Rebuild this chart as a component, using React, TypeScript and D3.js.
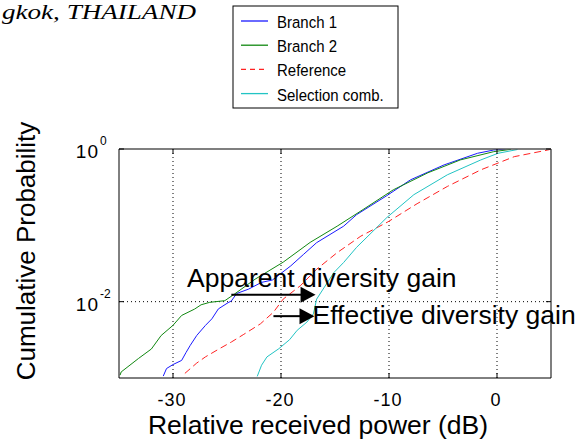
import React from 'react';
import * as d3 from 'd3';

// relative received power (dB), cumulative probability
const branch1: [number, number][] = [
  [-30.9, 0.00106], [-30.6, 0.00133], [-30.0, 0.0015], [-29.2, 0.0017], [-28.8, 0.00215],
  [-28.4, 0.00268], [-27.8, 0.00361], [-27.0, 0.00488], [-26.4, 0.00596], [-25.8, 0.00804],
  [-24.9, 0.0097], [-24.6, 0.0102], [-24.1, 0.0128], [-23.0, 0.0146], [-21.8, 0.0179],
  [-20.8, 0.0192], [-19.1, 0.0294], [-17.9, 0.0418], [-16.7, 0.0593], [-14.2, 0.0975],
  [-13.0, 0.138], [-10.2, 0.245], [-8.0, 0.395], [-4.9, 0.619], [-1.8, 0.879],
  [-0.3, 0.97], [0.8, 1.0],
];
const branch2: [number, number][] = [
  [-34.9, 0.00109], [-34.8, 0.0012], [-33.2, 0.0018], [-32.0, 0.0024], [-31.1, 0.0036],
  [-30.0, 0.0049], [-29.2, 0.0066], [-28.0, 0.008], [-27.4, 0.0091], [-26.6, 0.0098],
  [-25.2, 0.0103], [-24.3, 0.0126], [-22.4, 0.0197], [-19.8, 0.0329], [-17.3, 0.0598],
  [-14.8, 0.0975], [-12.4, 0.161], [-9.6, 0.292], [-6.4, 0.488], [-3.4, 0.719],
  [-0.3, 0.923], [1.3, 0.99],
];
const reference: [number, number][] = [
  [-28.9, 0.00115], [-27.8, 0.00157], [-27.0, 0.00189], [-25.7, 0.00242], [-24.6, 0.00296],
  [-23.5, 0.00369], [-21.9, 0.00513], [-20.7, 0.00728], [-19.8, 0.0108], [-18.2, 0.0162],
  [-16.7, 0.0266], [-14.8, 0.0439], [-12.6, 0.0723], [-10.1, 0.111], [-7.4, 0.192],
  [-4.6, 0.323], [-1.5, 0.533], [1.6, 0.794], [4.7, 0.97], [5.0, 0.995],
];
const selection: [number, number][] = [
  [-22.2, 0.00105], [-21.8, 0.00147], [-21.3, 0.00189], [-20.2, 0.00242], [-19.2, 0.00318],
  [-18.5, 0.00422], [-17.6, 0.0054], [-17.0, 0.00692], [-16.7, 0.0108], [-16.1, 0.0146],
  [-15.1, 0.0241], [-14.2, 0.0326], [-13.0, 0.0515], [-10.2, 0.1265], [-7.7, 0.252],
  [-4.6, 0.459], [-1.5, 0.719], [0.1, 0.879], [1.9, 0.985],
];

const xTicks = [-30, -20, -10, 0];
const yTicks = [1e-2, 1];
const yTickExp = ['-2', '0'];
const gridX = [-30, -20, -10, 0];
const gridY = [1e-2];

const series = [
  { name: 'Branch 1', data: branch1, color: '#1a1aff', dash: '' },
  { name: 'Branch 2', data: branch2, color: '#118811', dash: '' },
  { name: 'Reference', data: reference, color: '#ff2222', dash: '7,4' },
  { name: 'Selection comb.', data: selection, color: '#22c4c4', dash: '' },
];

// annotation arrows, in data units
const arrows = [
  { label: 'Apparent diversity gain', x1: -24.6, x2: -16.8, p: 0.0123 },
  { label: 'Effective diversity gain', x1: -20.7, x2: -16.9, p: 0.00646 },
];

const W = 582, H = 441;
const plot = { left: 119, right: 551, top: 149, bottom: 378 };
const font = '"Liberation Sans", Arial, sans-serif';

export default function App() {
  const x = d3.scaleLinear().domain([-35, 5]).range([plot.left, plot.right]);
  const y = d3.scaleLog().domain([1e-3, 1]).range([plot.bottom, plot.top]);
  const line = d3.line<[number, number]>().x(d => x(d[0])).y(d => y(d[1]));

  return (
    <svg width={W} height={H} style={{ position: 'absolute', left: 0, top: 0, background: '#fff' }} fontFamily={font}>
      <defs>
        <clipPath id="plotClip">
          <rect x={plot.left} y={plot.top} width={plot.right - plot.left} height={plot.bottom - plot.top} />
        </clipPath>
      </defs>

      <text x={196} y={19} textAnchor="end" fontFamily='"Liberation Serif", serif' fontStyle="italic" fontSize={21}
        textLength={194} lengthAdjust="spacingAndGlyphs">gkok, THAILAND</text>

      {/* grid */}
      {gridX.map(v => (
        <line key={'gx' + v} x1={x(v)} x2={x(v)} y1={plot.top} y2={plot.bottom} stroke="#000" strokeDasharray="1,3" />
      ))}
      {gridY.map(v => (
        <line key={'gy' + v} x1={plot.left} x2={plot.right} y1={y(v)} y2={y(v)} stroke="#000" strokeDasharray="1,3" />
      ))}

      {/* curves */}
      <g clipPath="url(#plotClip)">
        {series.map(s => (
          <path key={s.name} d={line(s.data) || ''} fill="none" stroke={s.color} strokeWidth={1}
            strokeDasharray={s.dash || undefined} />
        ))}
      </g>

      {/* box */}
      <line x1={plot.left} x2={plot.right} y1={plot.top} y2={plot.top} stroke="#555" strokeWidth={1.5} />
      <line x1={plot.right} x2={plot.right} y1={plot.top} y2={plot.bottom} stroke="#555" strokeWidth={1.5} />
      <line x1={plot.left} x2={plot.left} y1={plot.top} y2={plot.bottom} stroke="#000" />
      <line x1={plot.left} x2={plot.right} y1={plot.bottom} y2={plot.bottom} stroke="#000" />

      {/* x ticks */}
      {xTicks.map(v => (
        <g key={'xt' + v}>
          <line x1={x(v)} x2={x(v)} y1={plot.bottom} y2={plot.bottom - 5} stroke="#000" />
          <line x1={x(v)} x2={x(v)} y1={plot.top} y2={plot.top + 5} stroke="#000" />
          <text x={x(v) - 1} y={406} textAnchor="middle" fontSize={18} letterSpacing={1}>{v}</text>
        </g>
      ))}

      {/* y ticks */}
      {yTicks.map((v, i) => (
        <g key={'yt' + v}>
          <line x1={plot.left} x2={plot.left + 5} y1={y(v)} y2={y(v)} stroke="#000" />
          <line x1={plot.right} x2={plot.right - 5} y1={y(v)} y2={y(v)} stroke="#000" />
          <text x={99} y={y(v) + 9} textAnchor="end" fontSize={19} letterSpacing={1}>10</text>
          <text x={100} y={y(v) - 4} fontSize={12}>{yTickExp[i]}</text>
        </g>
      ))}

      {/* axis labels */}
      <text x={(plot.left + plot.right) / 2 - 17} y={434} textAnchor="middle" fontSize={26.5}>Relative received power (dB)</text>
      <text transform={`translate(35,251) rotate(-90)`} textAnchor="middle" fontSize={26}>Cumulative Probability</text>

      {/* annotations */}
      {arrows.map((a, i) => {
        const yy = y(a.p);
        const x1 = x(a.x1), x2 = x(a.x2);
        return (
          <g key={a.label}>
            <line x1={x1} x2={x2 - 12} y1={yy} y2={yy} stroke="#000" strokeWidth={2} />
            <path d={`M${x2},${yy} L${x2 - 15},${yy - 8} L${x2 - 15},${yy + 8} Z`} fill="#000" />
            {i === 0
              ? <text x={187} y={287} fontSize={26.5}>{a.label}</text>
              : <text x={x2 - 2} y={324} fontSize={26.5}>{a.label}</text>}
          </g>
        );
      })}

      {/* legend */}
      <g>
        <rect x={233} y={6} width={165} height={102} fill="#fff" stroke="#000" />
        {series.map((s, i) => {
          const ly = 21 + i * 24.2;
          return (
            <g key={'lg' + s.name}>
              <line x1={241} x2={268} y1={ly} y2={ly} stroke={s.color} strokeWidth={1.3}
                strokeDasharray={s.dash ? '5,4' : undefined} />
              <text transform={`translate(277,${ly + 7}) scale(1,1.15)`} fontSize={15}>{s.name}</text>
            </g>
          );
        })}
      </g>
    </svg>
  );
}
